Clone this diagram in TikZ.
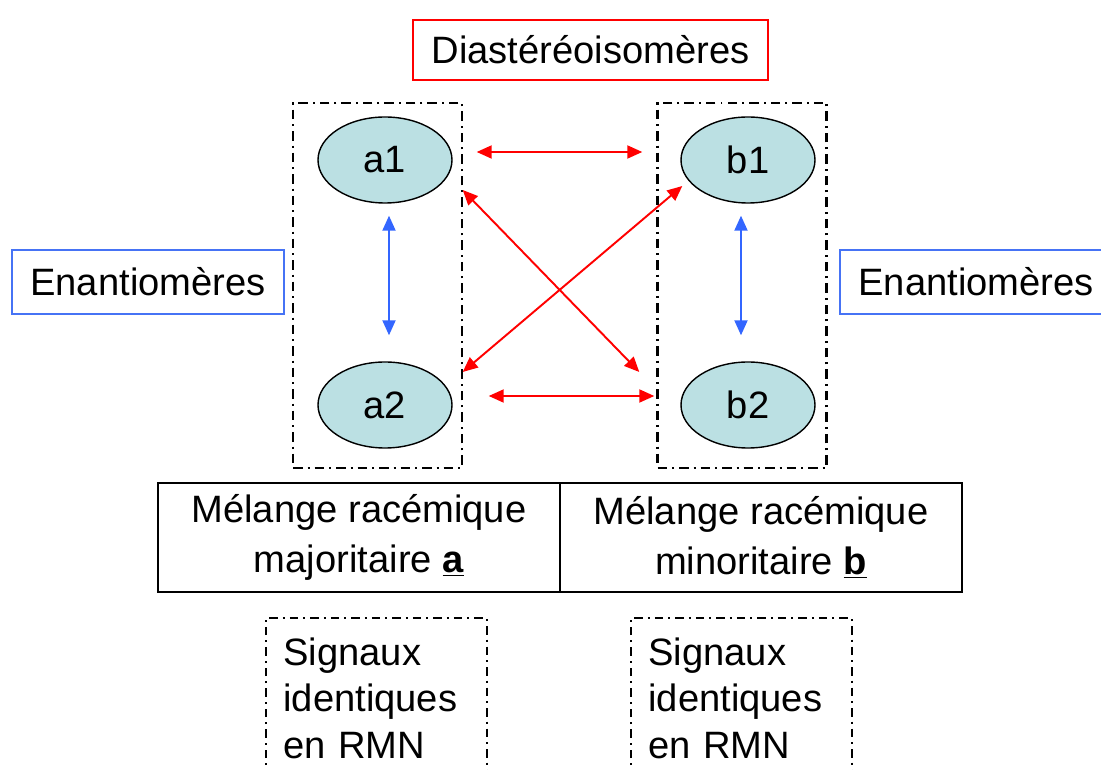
\documentclass[tikz,border=0pt]{standalone}
\usepackage{fontspec}
\setmainfont{Liberation Sans}
\usetikzlibrary{arrows.meta, shapes.geometric}

\definecolor{ellfill}{RGB}{187,224,227}
\definecolor{enblue}{RGB}{70,115,245}
\definecolor{arrblue}{RGB}{51,102,255}

\begin{document}
\begin{tikzpicture}[
    every node/.style={font=\fontsize{21.7}{26}\selectfont},
    isomer/.style={ellipse, draw, thick, fill=ellfill, minimum width=2.68cm, minimum height=1.72cm},
    group/.style={draw, line width=1.6pt, dash pattern=on 0.19cm off 0.1cm on 0.04cm off 0.1cm, minimum width=3.38cm, minimum height=7.3cm},
    redbox/.style={draw=red, thick, minimum width=7.1cm, minimum height=1.2cm},
    bluebox/.style={draw=enblue, thick, minimum width=5.44cm, minimum height=1.28cm},
    cell/.style={draw, thick, minimum width=8.04cm, minimum height=2.18cm, align=center, font=\fontsize{21.7}{28.4}\selectfont},
    sigbox/.style={anchor=north west, text width=3.72cm, inner xsep=0.34cm, minimum height=3.2cm, align=left, font=\fontsize{21.7}{26.2}\selectfont},
    sigline/.style={line width=1pt, dash pattern=on 0.17cm off 0.1cm on 0.04cm off 0.1cm},
    diaarrow/.style={{Triangle[length=0.3cm, width=0.26cm]}-{Triangle[length=0.3cm, width=0.26cm]}, red, line width=1.1pt},
    enarrow/.style={{Triangle[length=0.3cm, width=0.26cm]}-{Triangle[length=0.3cm, width=0.26cm]}, arrblue, line width=1.1pt}
]
\useasboundingbox (0,0) rectangle (22.02,15.38);

% title
\node[redbox] (diast) at (11.81,14.38) {Diastéréoisomères};

% groups of the two racemates
\node[group] (grpA) at (7.55,9.67) {};
\node[group] (grpB) at (14.84,9.67) {};

\node[isomer] (a1) at (7.7,12.18) {a1};
\node[isomer] (a2) at (7.7,7.28) {a2};
\node[isomer] (b1) at (14.96,12.18) {b1};
\node[isomer] (b2) at (14.96,7.28) {b2};

\node[bluebox] (enL) at (2.96,9.74) {Enantiomères};
\node[bluebox] (enR) at (19.52,9.74) {Enantiomères};

% enantiomers
\draw[enarrow] ([xshift=0.08cm, yshift=-0.24cm]a1.south) -- ([xshift=0.08cm, yshift=0.52cm]a2.north);
\draw[enarrow] ([xshift=-0.14cm, yshift=-0.24cm]b1.south) -- ([xshift=-0.14cm, yshift=0.52cm]b2.north);

% diastereoisomers
\draw[diaarrow, shorten <=0.48cm, shorten >=0.76cm] ([yshift=0.16cm]a1.east) -- ([yshift=0.16cm]b1.west);
\draw[diaarrow, shorten <=0.72cm, shorten >=0.52cm] ([yshift=0.18cm]a2.east) -- ([yshift=0.18cm]b2.west);
\draw[diaarrow] ([xshift=0.2cm, yshift=-0.6cm]a1.east) -- ([xshift=-0.82cm, yshift=0.66cm]b2.west);
\draw[diaarrow] ([xshift=0.04cm, yshift=-0.52cm]b1.west) -- ([xshift=0.2cm, yshift=0.66cm]a2.east);

% table
\node[cell] (mixA) at (7.18,4.63) {Mélange racémique\\majoritaire \underline{\textbf{a}}};
\node[cell] (mixB) at (15.22,4.63) {Mélange racémique\\minoritaire \underline{\textbf{b}}};

% NMR signals
\node[sigbox] (sigA) at (5.32,3.02) {Signaux\\identiques\\en RMN};
\node[sigbox] (sigB) at (12.62,3.02) {Signaux\\identiques\\en RMN};
\draw[sigline] (sigA.south west) -- (sigA.north west) -- (sigA.north east) -- (sigA.south east);
\draw[sigline] (sigB.south west) -- (sigB.north west) -- (sigB.north east) -- (sigB.south east);

\end{tikzpicture}
\end{document}
